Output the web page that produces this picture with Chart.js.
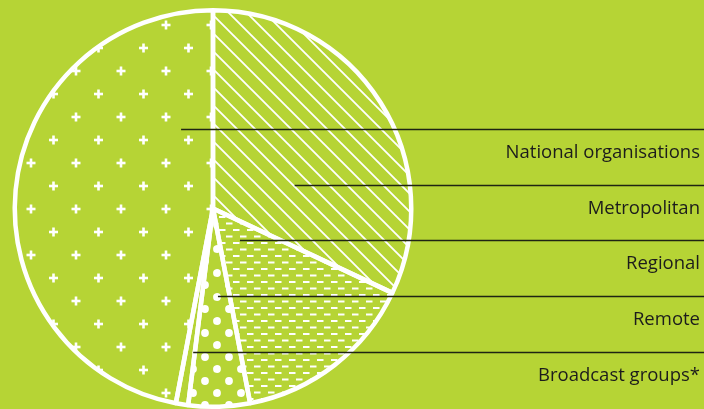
<!DOCTYPE html>
<html>
<head>
<meta charset="utf-8">
<script src="https://cdn.jsdelivr.net/npm/chart.js@4/dist/chart.umd.min.js"></script>
<style>
  html, body { margin: 0; padding: 0; background: #b6d435; }
  #wrap { width: 704px; height: 409px; }
</style>
</head>
<body>
<div id="wrap"><canvas id="c" width="704" height="409"></canvas></div>
<script>
// ---- data ----
const categories = ["National organisations", "Metropolitan", "Regional", "Remote", "Broadcast groups*"];
const shares = [47, 32, 15, 5, 1];
const fills = ["plus", "hatch", "dash", "dot", "none"];

// ---- pattern tiles ----
const canvas = document.getElementById('c');
const ctx = canvas.getContext('2d');

function tile(w, h, draw) {
  const c = document.createElement('canvas');
  c.width = w; c.height = h;
  const t = c.getContext('2d');
  t.fillStyle = '#fff';
  t.strokeStyle = '#fff';
  draw(t, w, h);
  return ctx.createPattern(c, 'repeat');
}
function wrap(w, h, fn) {
  for (const dx of [-w, 0, w]) for (const dy of [-h, 0, h]) fn(dx, dy);
}

const patternMakers = {
  plus: () => tile(45, 46, (t, w, h) => {
    const pts = [[31, 25], [8.5, 2]];
    pts.forEach(([x, y]) => wrap(w, h, (dx, dy) => {
      t.fillRect(x + dx - 4.5, y + dy - 1.3, 9, 2.6);
      t.fillRect(x + dx - 1.3, y + dy - 4.5, 2.6, 9);
    }));
  }),
  hatch: () => tile(18, 18, (t, w, h) => {
    t.lineWidth = 1.8;
    t.beginPath();
    for (const k of [-w, 0, w]) { t.moveTo(k - 3, -3); t.lineTo(k + w + 3, h + 3); }
    t.stroke();
  }),
  dash: () => tile(14, 13, (t, w, h) => {
    const pts = [[2, 1.5], [9, 8]];
    pts.forEach(([x, y]) => wrap(w, h, (dx, dy) => t.fillRect(x + dx, y + dy, 6.5, 2)));
  }),
  dot: () => tile(24, 24, (t, w, h) => {
    const pts = [[1, 9], [13, 21]];
    pts.forEach(([x, y]) => wrap(w, h, (dx, dy) => {
      t.beginPath(); t.arc(x + dx, y + dy, 3.9, 0, Math.PI * 2); t.fill();
    }));
  }),
  none: () => 'rgba(0,0,0,0)'
};
const backgrounds = fills.map(f => patternMakers[f]());

// rotation so that the first category ends at the top (12 o'clock)
const total = shares.reduce((a, b) => a + b, 0);
const startRotation = -shares[0] / total * 360;

// ---- leader lines + labels ----
const leaderPlugin = {
  id: 'leaders',
  afterDraw(chart, args, opts) {
    const arc = chart.getDatasetMeta(0).data[0];
    const cx = arc.x, cy = arc.y, r = arc.outerRadius;
    const c = chart.ctx;
    c.save();
    chart.data.labels.forEach((label, i) => {
      const y = Math.round(cy + opts.yFrac[i] * r) + 0.5;
      const x0 = cx + opts.xFrac[i] * r;
      c.strokeStyle = '#1f2413';
      c.lineWidth = 1.3;
      c.beginPath();
      c.moveTo(x0, y);
      c.lineTo(chart.width, y);
      c.stroke();
      c.fillStyle = '#1c1c1c';
      c.font = '18.5px "Open Sans", Lato, sans-serif';
      c.textAlign = 'right';
      c.textBaseline = 'middle';
      c.fillText(label, chart.width - 4, y + 23);
    });
    c.restore();
  }
};

new Chart(canvas, {
  type: 'pie',
  data: {
    labels: categories,
    datasets: [{
      data: shares,
      backgroundColor: backgrounds,
      borderColor: '#ffffff',
      borderWidth: 4.5,
      hoverOffset: 0,
      offset: 0
    }]
  },
  options: {
    responsive: false,
    animation: false,
    events: [],
    rotation: startRotation,
    layout: { padding: { left: 12, top: 8, right: 290, bottom: 0 } },
    plugins: {
      legend: { display: false },
      tooltip: { enabled: false },
      leaders: {
        yFrac: [-0.402, -0.121, 0.161, 0.442, 0.724],
        xFrac: [-0.161, 0.412, 0.136, 0.025, -0.10]
      }
    }
  },
  plugins: [leaderPlugin]
});
</script>
</body>
</html>
